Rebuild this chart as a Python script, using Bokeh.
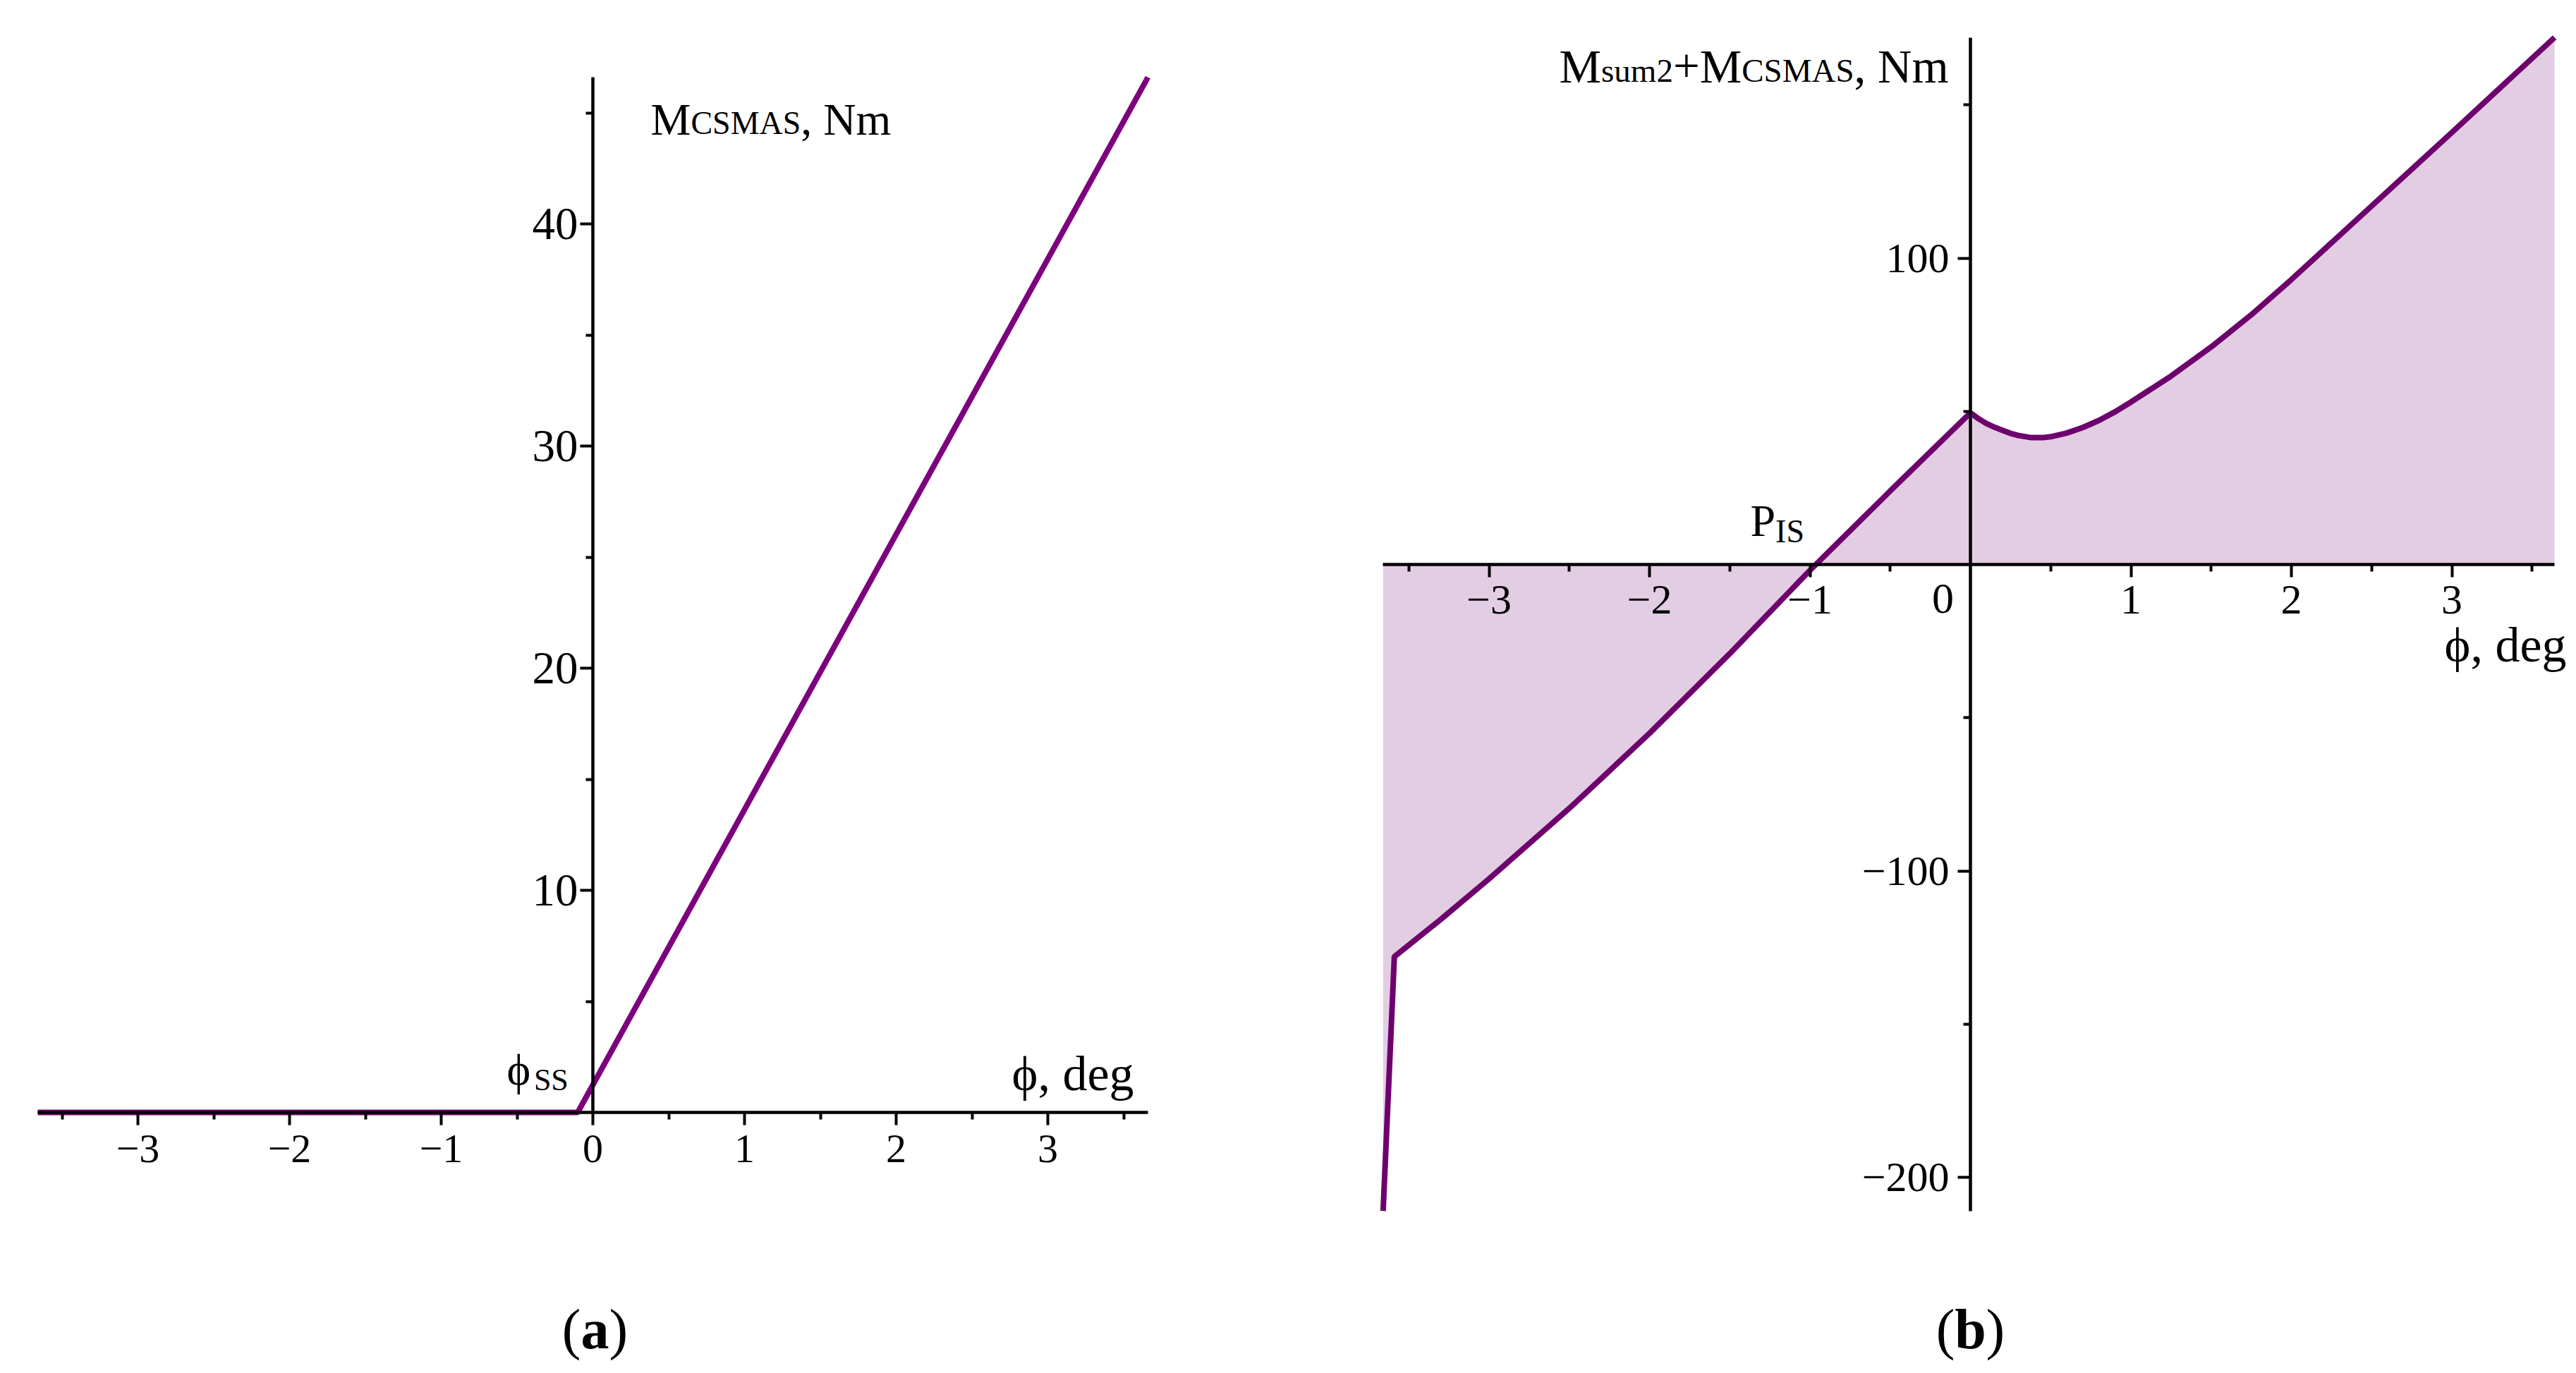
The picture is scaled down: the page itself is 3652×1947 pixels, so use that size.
from bokeh.plotting import figure
from bokeh.models import Range1d, LinearAxis, FixedTicker, Label
from bokeh.layouts import row
from bokeh.embed import file_html
from bokeh.resources import INLINE

# ---------------- data ----------------
# (a) M_CSMAS vs phi
phi_a = [-3.66, -0.10, 3.66]
m_a = [0.0, 0.0, 46.6]

# (b) M_sum2 + M_CSMAS vs phi
phi_b = [-3.66, -3.59, -3.3, -3.0, -2.5, -2.0, -1.5, -1.0, -0.5, 0.0, 0.05, 0.1,
         0.15, 0.2, 0.25, 0.3, 0.38, 0.45, 0.5, 0.6, 0.7, 0.8, 0.9, 1.0, 1.25, 1.5,
         1.75, 2.0, 2.5, 3.0, 3.64]
m_b = [-211, -128, -115.8, -102.6, -79.6, -55.1, -29.1, -1.9, 24.0, 49.5, 47.6, 46.0,
       44.8, 43.8, 42.8, 42.1, 41.4, 41.4, 41.7, 42.9, 44.7, 47.0, 49.8, 53.0, 61.5, 71.0,
       81.5, 93.0, 117.0, 141.0, 172.0]
zero_b = [0.0] * len(phi_b)

x_ticks_a = [-3, -2, -1, 0, 1, 2, 3]
x_ticks_b = [-3, -2, -1, 1, 2, 3]
x_minor = [-3.5, -2.5, -1.5, -0.5, 0.5, 1.5, 2.5, 3.5]
y_ticks_a = [10, 20, 30, 40]
y_minor_a = [5, 15, 25, 35, 45]
y_ticks_b = [-200, -100, 100]
y_minor_b = [-150, -50, 50, 150]

MINUS = "\u2212"
def tick_text(v):
    return (MINUS + str(abs(v))) if v < 0 else str(v)

# ---------------- layout constants ----------------
FONT = "Liberation Serif"
OFF = 0
H = 1945
W1, W2 = 1800, 1850
BASE_FIX = 0.27

def mapping(ox, oy, sx, sy, left, width):
    cx0 = ox - OFF - left
    cy0 = oy - OFF
    xr = Range1d(-cx0 / sx, (width - cx0) / sx)
    yr = Range1d((cy0 - H) / sy, cy0 / sy)
    conv = lambda X, Y: ((X - ox) / sx, (oy - Y) / sy)
    return xr, yr, conv

WID = {"M": .889, "C": .667, "S": .556, "A": .722, ",": .25, " ": .25, "N": .722,
       "m": .778, "s": .389, "u": .5, "2": .5, "+": .564, "P": .556, "I": .333,
       "\u03d5": .6}
def text_w(t, size):
    return sum(WID.get(c, .5) for c in t) * size

def add_label(p, conv, X, Y, text, size, align="left", bold=False):
    x, y = conv(X, Y - BASE_FIX * size)
    p.add_layout(Label(x=x, y=y, text=text, text_font=FONT,
                       text_font_size=f"{size}px", text_align=align,
                       text_baseline="alphabetic", text_color="black",
                       text_font_style="bold" if bold else "normal"))

def chain(p, conv, X0, base, pieces):
    X = X0
    for t, size, dy in pieces:
        add_label(p, conv, X, base + dy, t, size)
        X += text_w(t, size)

def style_axes(p, xticks, xminor, yticks, yminor, xb, yb, xsize, ysize, xstand, ystand):
    xa = LinearAxis(fixed_location=0)
    ya = LinearAxis(fixed_location=0)
    xa.ticker = FixedTicker(ticks=xticks, minor_ticks=xminor)
    ya.ticker = FixedTicker(ticks=yticks, minor_ticks=yminor)
    xa.bounds = xb
    ya.bounds = yb
    xa.major_label_overrides = {v: tick_text(v) for v in xticks}
    ya.major_label_overrides = {v: tick_text(v) for v in yticks}
    for a, st, sz in ((xa, xstand, xsize), (ya, ystand, ysize)):
        a.axis_line_width = 4.5
        a.axis_line_color = "black"
        a.major_tick_line_width = 4
        a.minor_tick_line_width = 4
        a.major_tick_out = 18
        a.major_tick_in = 0
        a.minor_tick_out = 10
        a.minor_tick_in = 0
        a.major_label_text_font = FONT
        a.major_label_text_font_size = f"{sz}px"
        a.major_label_text_color = "black"
        a.major_label_standoff = st
    p.add_layout(xa, "below")
    p.add_layout(ya, "left")

# ---------------- panel (a) ----------------
xr1, yr1, c1 = mapping(840, 1577, 215.0, 31.5, 0, W1)
p1 = figure(width=W1, height=H, x_range=xr1, y_range=yr1, x_axis_type=None,
            y_axis_type=None, toolbar_location=None, output_backend="svg",
            min_border=0)
p1.outline_line_color = None
p1.line(phi_a, m_a, line_color="#7d007d", line_width=8)
style_axes(p1, x_ticks_a, x_minor, y_ticks_a, y_minor_a, (-3.66, 3.66), (0, 46.6),
           58, 65, 14, 3)

chain(p1, c1, 922, 186, [("M", 64, 0), ("CSMAS", 46, 0), (", Nm", 64, 0)])
chain(p1, c1, 718, 1533, [("\u03d5", 64, 0), ("SS", 44, 10)])
add_label(p1, c1, 1607, 1541, "\u03d5, deg", 70, align="right")
add_label(p1, c1, 843 - 20, 1906, "(", 80, align="right")
add_label(p1, c1, 843, 1906, "a", 80, align="center", bold=True)
add_label(p1, c1, 843 + 20, 1906, ")", 80, align="left")

# ---------------- panel (b) ----------------
xr2, yr2, c2 = mapping(2793, 800, 227.5, 4.345, W1, W2)
p2 = figure(width=W2, height=H, x_range=xr2, y_range=yr2, x_axis_type=None,
            y_axis_type=None, toolbar_location=None, output_backend="svg",
            min_border=0)
p2.outline_line_color = None
p2.varea(x=phi_b, y1=zero_b, y2=m_b, fill_color="#e3cde3", fill_alpha=1.0)
p2.line(phi_b, m_b, line_color="#6e006e", line_width=8)
style_axes(p2, x_ticks_b, x_minor, y_ticks_b, y_minor_b, (-3.66, 3.64), (-211, 172),
           60, 60, 12, 12)

chain(p2, c2, 2210, 112, [("M", 67, 0), ("sum2", 47, 0), ("+", 67, 0), ("M", 67, 0),
                          ("CSMAS", 47, 0), (", Nm", 67, 0)])
chain(p2, c2, 2481, 755, [("P", 64, 0), ("IS", 46, 10)])
add_label(p2, c2, 2754, 865, "0", 62, align="center")
add_label(p2, c2, 3638, 933, "\u03d5, deg", 70, align="right")
add_label(p2, c2, 2793 - 22, 1906, "(", 80, align="right")
add_label(p2, c2, 2793, 1906, "b", 80, align="center", bold=True)
add_label(p2, c2, 2793 + 22, 1906, ")", 80, align="left")

layout = row(p1, p2)
open("out.html", "w").write(file_html(layout, INLINE))
